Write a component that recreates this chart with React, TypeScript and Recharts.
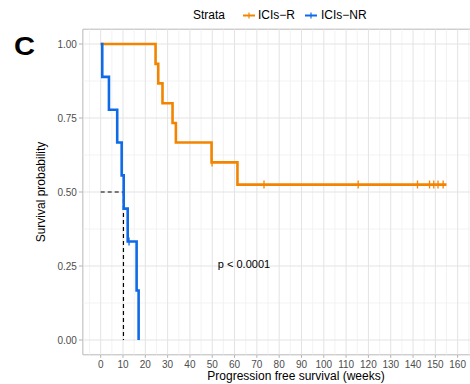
import {
    ComposedChart,
    Line,
    Scatter,
    XAxis,
    YAxis,
    ReferenceLine,
    ReferenceArea,
    ReferenceDot,
} from 'recharts';

// axis ticks
const xTicks = [0, 10, 20, 30, 40, 50, 60, 70, 80, 90, 100, 110, 120, 130, 140, 150, 160];
const yTicks = [0, 0.25, 0.5, 0.75, 1];
const xMinor = [-5, ...xTicks.map((v) => v + 5)];
const yMinor = [0.125, 0.375, 0.625, 0.875];

// ICIs-R (orange)
const rTime = [0, 24.6, 25.8, 27.7, 32.2, 33.7, 49.7, 61.3, 155.0];
const rSurv = [1, 0.933, 0.867, 0.8, 0.733, 0.667, 0.6, 0.525, 0.525];
const rCensorTime = [49.9, 73.2, 115.4, 142.0, 147.4, 149.3, 151.2, 153.5];
const rCensorSurv = [0.6, 0.525, 0.525, 0.525, 0.525, 0.525, 0.525, 0.525];

// ICIs-NR (blue)
const nrTime = [0, 0.7, 3.7, 7.4, 9.4, 10.3, 12.1, 16.1, 17.0];
const nrSurv = [1, 0.889, 0.778, 0.667, 0.556, 0.444, 0.333, 0.167, 0];
const nrCensorTime = [12.7];
const nrCensorSurv = [0.333];

// median survival of ICIs-NR
const medianTime = 10.2;
const medianSurv = 0.5;

const pValue = { t: 52.5, s: 0.256, text: 'p < 0.0001' };

const ORANGE = '#F38400';
const BLUE = '#0F6AE8';
const MAJOR = '#e3e3e3';
const MINOR = '#f0f0f0';

const toRows = (ts: number[], ss: number[]) => ts.map((t, i) => ({ t, s: ss[i] }));
const rData = toRows(rTime, rSurv);
const nrData = toRows(nrTime, nrSurv);
const rCensor = toRows(rCensorTime, rCensorSurv);
const nrCensor = toRows(nrCensorTime, nrCensorSurv);

const censorShape = (color: string) => (props: any) => {
    const { cx, cy } = props;
    return (
        <line x1={cx} x2={cx} y1={cy - 4} y2={cy + 4} stroke={color} strokeWidth={1.3} />
    );
};

const PLabel = (props: any) => {
    const { viewBox } = props;
    return (
        <text x={viewBox.x} y={viewBox.y} dy="0.36em" fontSize={11} fill="#000">
            {pValue.text}
        </text>
    );
};

export default function App() {
    return (
        <div
            style={{
                position: 'fixed',
                left: 0,
                top: 0,
                width: 470,
                height: 384,
                overflow: 'hidden',
                background: '#fff',
                fontFamily: '"Liberation Sans", Arial, sans-serif',
            }}
        >
            <ComposedChart
                width={490}
                height={400}
                margin={{ top: 29.2, right: 14.5, bottom: 15.2, left: 0 }}
            >
                <XAxis
                    type="number"
                    dataKey="t"
                    domain={[-8, 168]}
                    allowDataOverflow
                    ticks={xTicks}
                    interval={0}
                    height={30}
                    axisLine={false}
                    tickLine={{ stroke: '#b3b3b3' }}
                    tickSize={3}
                    tickMargin={3}
                    tick={{ fill: '#4d4d4d', fontSize: 10 }}
                />
                <YAxis
                    type="number"
                    dataKey="s"
                    domain={[-0.05, 1.05]}
                    allowDataOverflow
                    ticks={yTicks}
                    interval={0}
                    width={82.85}
                    axisLine={false}
                    tickLine={{ stroke: '#b3b3b3' }}
                    tickSize={4}
                    tickMargin={2}
                    tickFormatter={(v: number) => v.toFixed(2)}
                    tick={{ fill: '#4d4d4d', fontSize: 10 }}
                />
                {xMinor.map((v) => (
                    <ReferenceLine key={'xm' + v} x={v} stroke={MINOR} strokeWidth={0.8} ifOverflow="hidden" />
                ))}
                {yMinor.map((v) => (
                    <ReferenceLine key={'ym' + v} y={v} stroke={MINOR} strokeWidth={0.8} />
                ))}
                {xTicks.map((v) => (
                    <ReferenceLine key={'x' + v} x={v} stroke={MAJOR} strokeWidth={1} />
                ))}
                {yTicks.map((v) => (
                    <ReferenceLine key={'y' + v} y={v} stroke={MAJOR} strokeWidth={1} />
                ))}
                <ReferenceArea
                    x1={-8}
                    x2={168}
                    y1={-0.05}
                    y2={1.05}
                    fill="none"
                    fillOpacity={0}
                    stroke="#b8b8b8"
                    strokeWidth={1}
                />
                <ReferenceLine
                    segment={[
                        { x: 0, y: medianSurv },
                        { x: medianTime, y: medianSurv },
                    ]}
                    stroke="#000"
                    strokeDasharray="4 3"
                    strokeWidth={1.2}
                />
                <ReferenceLine
                    segment={[
                        { x: medianTime, y: medianSurv },
                        { x: medianTime, y: 0 },
                    ]}
                    stroke="#000"
                    strokeDasharray="4 3"
                    strokeWidth={1.2}
                />
                <Line
                    data={rData}
                    dataKey="s"
                    type="stepAfter"
                    stroke={ORANGE}
                    strokeWidth={2.6}
                    dot={false}
                    activeDot={false}
                    isAnimationActive={false}
                />
                <Line
                    data={nrData}
                    dataKey="s"
                    type="stepAfter"
                    stroke={BLUE}
                    strokeWidth={2.6}
                    dot={false}
                    activeDot={false}
                    isAnimationActive={false}
                />
                <Scatter
                    data={rCensor}
                    dataKey="s"
                    shape={censorShape(ORANGE)}
                    isAnimationActive={false}
                />
                <Scatter
                    data={nrCensor}
                    dataKey="s"
                    shape={censorShape(BLUE)}
                    isAnimationActive={false}
                />
                <ReferenceDot
                    x={pValue.t}
                    y={pValue.s}
                    r={0}
                    fill="none"
                    stroke="none"
                    label={<PLabel />}
                />
            </ComposedChart>
            <svg
                width={470}
                height={384}
                style={{ position: 'absolute', left: 0, top: 0, pointerEvents: 'none' }}
            >
                <text x={14} y={55} fontSize={25} fontWeight="bold" textLength={21} lengthAdjust="spacingAndGlyphs">
                    C
                </text>
                <text x={193} y={19.3} fontSize={12} fill="#000">
                    Strata
                </text>
                <line x1={243} x2={255} y1={15.5} y2={15.5} stroke={ORANGE} strokeWidth={2} />
                <line x1={249} x2={249} y1={12.5} y2={18.5} stroke={ORANGE} strokeWidth={1.2} />
                <text x={258} y={19.3} fontSize={12} fill="#000">
                    ICIs−R
                </text>
                <line x1={305} x2={317} y1={15.5} y2={15.5} stroke={BLUE} strokeWidth={2} />
                <line x1={311} x2={311} y1={12.5} y2={18.5} stroke={BLUE} strokeWidth={1.2} />
                <text x={321} y={19.3} fontSize={12} fill="#000">
                    ICIs−NR
                </text>
                <text
                    transform="translate(44.5,192) rotate(-90)"
                    textAnchor="middle"
                    fontSize={12}
                    fill="#000"
                >
                    Survival probability
                </text>
                <text x={296} y={380.3} textAnchor="middle" fontSize={12} fill="#000">
                    Progression free survival (weeks)
                </text>
            </svg>
        </div>
    );
}
